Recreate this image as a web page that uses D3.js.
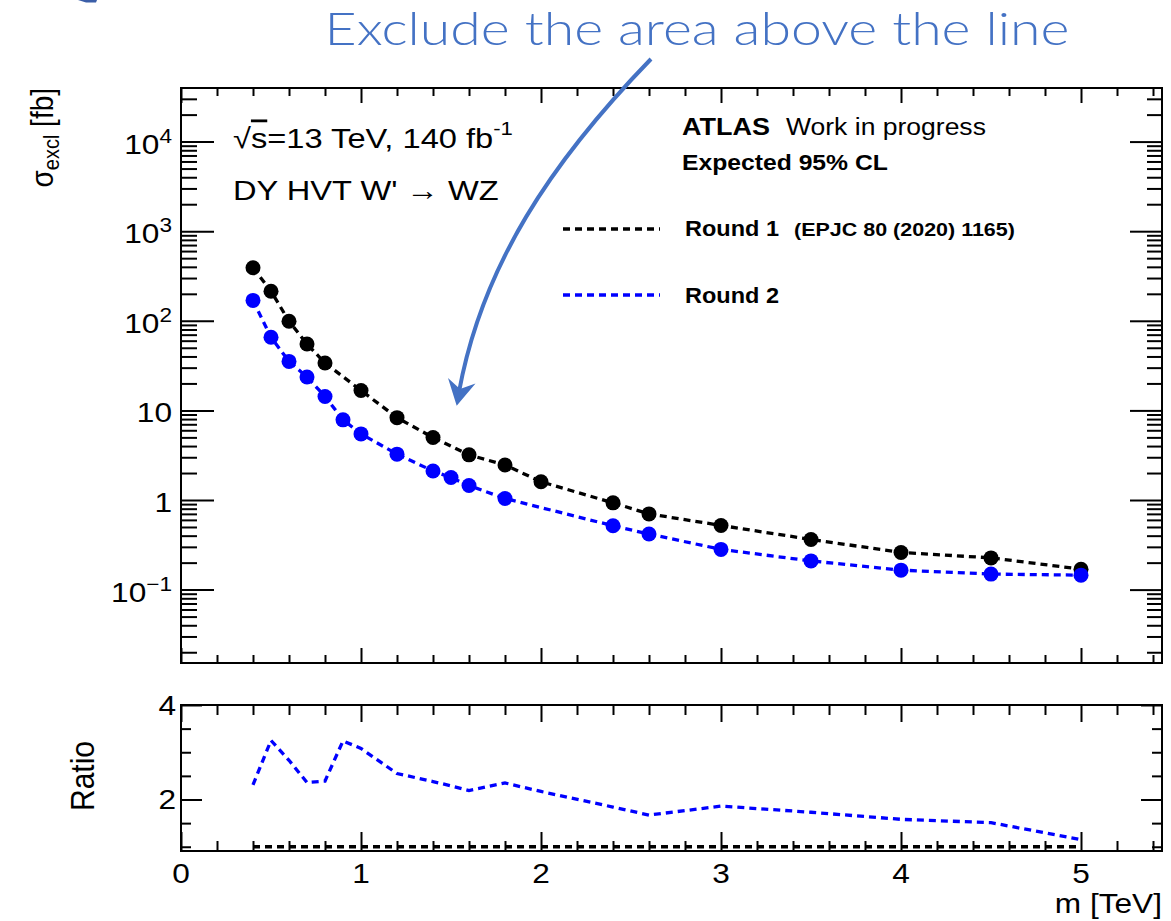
<!DOCTYPE html>
<html><head><meta charset="utf-8">
<script src="https://cdn.jsdelivr.net/npm/d3@7"></script>
<style>html,body{margin:0;padding:0;background:#fff;} svg{display:block;}</style>
</head><body>
<script>
// ---------------- data ----------------
const massRound1 = [0.4,0.5,0.6,0.7,0.8,1.0,1.2,1.4,1.6,1.8,2.0,2.4,2.6,3.0,3.5,4.0,4.5,5.0];
const xsecRound1 = [391,214,99,55,33.8,16.7,8.3,4.98,3.19,2.46,1.60,0.93,0.70,0.52,0.363,0.26,0.226,0.169];
const massRound2 = [0.4,0.5,0.6,0.7,0.8,0.9,1.0,1.2,1.4,1.5,1.6,1.8,2.4,2.6,3.0,3.5,4.0,4.5,5.0];
const xsecRound2 = [169,65.4,35.2,23.6,14.3,7.85,5.47,3.25,2.11,1.78,1.45,1.04,0.516,0.417,0.281,0.209,0.165,0.149,0.145];
const massRatio  = [0.4,0.5,0.6,0.7,0.8,0.9,1.0,1.2,1.4,1.5,1.6,1.8,2.0,2.4,2.6,3.0,3.5,4.0,4.5,5.0];
const ratioRound2 = [2.31,3.25,2.83,2.36,2.39,3.24,3.08,2.55,2.38,2.29,2.19,2.35,2.17,1.84,1.67,1.86,1.73,1.58,1.51,1.15];
const massRef = [0.4,5.0];
const ratioRef = [1,1];
const xMajorTicks = [0,1,2,3,4,5];
const xTickLabels = ["0","1","2","3","4","5"];
const yMajorExps = [-1,0,1,2,3,4];
const yTickLabels = [["10","\u22121"],["1",""],["10",""],["10","2"],["10","3"],["10","4"]];
const ratioMajorTicks = [2,4];
const ratioMinorTicks = [1,1.5,2.5,3,3.5];
const ratioTickLabels = ["2","4"];
const seriesNames = ["Round 1","Round 2"];

// ---------------- setup ----------------
const W = 1171, H = 921;
const FONT = "'Liberation Sans', Arial, Helvetica, sans-serif";
const SX = 1.13;
const BLUE = "#0000ff";
const NOTE = "#4472c4";
const svg = d3.select("body").append("svg").attr("width", W).attr("height", H);

const P = {l:181, r:1162, t:88, b:663};
const R = {t:705, b:851};

const x = d3.scaleLinear().domain([0, 5.45]).range([181, 181 + 5.45*180]);
const y = d3.scaleLog().domain([Math.pow(10,-1.819), Math.pow(10,4.598)]).range([P.b, P.t]);
const yr = d3.scaleLinear().domain([0.91, 4]).range([R.b, R.t]);

function addText(px, py, o) {
  const g = svg.append("g");
  const t = g.append("text")
    .attr("font-family", o.family || FONT)
    .attr("font-size", o.size)
    .attr("font-weight", o.weight || "normal")
    .attr("fill", o.fill || "#000")
    .attr("text-anchor", o.anchor || "start");
  if (o.rotate) t.attr("transform", `rotate(${o.rotate})`);
  o.build(t);
  let sx = o.sx || SX;
  if (o.width) { const bb = t.node().getBBox(); if (bb.width > 0) sx = o.width / bb.width; }
  g.attr("transform", `translate(${px},${py}) scale(${sx},1)`);
  return t;
}
const plain = s => t => t.text(s);

// ---------------- axes / ticks ----------------
const xMinor = d3.range(0, 28).filter(i => i % 5 !== 0).map(i => i*0.2).filter(v => v <= 5.45);
const yMinor = [];
for (let e = -2; e <= 4; e++) for (let k = 2; k <= 9; k++) {
  const v = k*Math.pow(10,e);
  if (v > y.domain()[0] && v < y.domain()[1]) yMinor.push(v);
}
const yMajor = yMajorExps.map(e => Math.pow(10,e));

function tickAxis(axis, tx, ty) {
  svg.append("g").attr("transform", `translate(${tx},${ty})`).call(axis.tickFormat(""))
    .call(g => g.select(".domain").remove())
    .call(g => g.selectAll("line").attr("stroke", "#000").attr("stroke-width", 2));
}
// main panel
tickAxis(d3.axisTop(x).tickValues(xMajorTicks).tickSize(15), 0, P.b);
tickAxis(d3.axisTop(x).tickValues(xMinor).tickSize(8), 0, P.b);
tickAxis(d3.axisBottom(x).tickValues(xMajorTicks).tickSize(15), 0, P.t);
tickAxis(d3.axisBottom(x).tickValues(xMinor).tickSize(8), 0, P.t);
tickAxis(d3.axisRight(y).tickValues(yMajor).tickSize(33), P.l, 0);
tickAxis(d3.axisRight(y).tickValues(yMinor).tickSize(16), P.l, 0);
tickAxis(d3.axisLeft(y).tickValues(yMajor).tickSize(32), P.r, 0);
tickAxis(d3.axisLeft(y).tickValues(yMinor).tickSize(15), P.r, 0);
// ratio panel
tickAxis(d3.axisTop(x).tickValues(xMajorTicks).tickSize(19), 0, R.b);
tickAxis(d3.axisTop(x).tickValues(xMinor).tickSize(10), 0, R.b);
tickAxis(d3.axisBottom(x).tickValues(xMajorTicks).tickSize(17), 0, R.t);
tickAxis(d3.axisBottom(x).tickValues(xMinor).tickSize(10), 0, R.t);
tickAxis(d3.axisRight(yr).tickValues(ratioMajorTicks).tickSize(21), P.l, 0);
tickAxis(d3.axisRight(yr).tickValues(ratioMinorTicks).tickSize(10), P.l, 0);
tickAxis(d3.axisLeft(yr).tickValues(ratioMajorTicks).tickSize(21), P.r, 0);
tickAxis(d3.axisLeft(yr).tickValues(ratioMinorTicks).tickSize(10), P.r, 0);

// frames
svg.append("rect").attr("x", P.l).attr("y", P.t).attr("width", P.r-P.l).attr("height", P.b-P.t)
  .attr("fill", "none").attr("stroke", "#000").attr("stroke-width", 2);
svg.append("rect").attr("x", P.l).attr("y", R.t).attr("width", P.r-P.l).attr("height", R.b-R.t)
  .attr("fill", "none").attr("stroke", "#000").attr("stroke-width", 2);

// y tick labels (main)
yMajor.forEach((v, i) => {
  const lab = yTickLabels[i];
  addText(172, y(v) + 12, {size: 28, anchor: "end", build: t => {
    t.append("tspan").text(lab[0]);
    if (lab[1]) t.append("tspan").attr("font-size", 20).attr("dy", -11).text(lab[1]);
  }});
});
// ratio tick labels
ratioMajorTicks.forEach((v, i) => {
  addText(176, yr(v) + 10, {size: 28, anchor: "end", build: plain(ratioTickLabels[i])});
});
// x tick labels
xMajorTicks.forEach((v, i) => {
  addText(x(v), 883, {size: 28, anchor: "middle", build: plain(xTickLabels[i])});
});

// axis titles
addText(1162, 913, {size: 28, anchor: "end", build: plain("m [TeV]")});
addText(53, 88, {size: 28, anchor: "end", rotate: -90, build: t => {
  t.append("tspan").text("\u03c3");
  t.append("tspan").attr("font-size", 20).attr("dy", 5).text("excl");
  t.append("tspan").attr("dy", -5).text(" [fb]");
}});
addText(94, 776, {size: 30, anchor: "middle", rotate: -90, build: plain("Ratio")});

// ---------------- data marks ----------------
const line1 = d3.line().x((d,i) => x(massRound1[i])).y(d => y(d));
const line2 = d3.line().x((d,i) => x(massRound2[i])).y(d => y(d));
const lineR = d3.line().x((d,i) => x(massRatio[i])).y(d => yr(d));
const lineRef = d3.line().x((d,i) => x(massRef[i])).y(d => yr(d));
const DASH = "7,5";

svg.append("path").datum(xsecRound1).attr("d", line1).attr("fill", "none")
  .attr("stroke", "#000").attr("stroke-width", 3.3).attr("stroke-dasharray", DASH);
svg.append("g").selectAll("circle").data(xsecRound1).join("circle")
  .attr("cx", (d,i) => x(massRound1[i])).attr("cy", d => y(d)).attr("r", 7.5).attr("fill", "#000");
svg.append("path").datum(xsecRound2).attr("d", line2).attr("fill", "none")
  .attr("stroke", BLUE).attr("stroke-width", 3.3).attr("stroke-dasharray", DASH);
svg.append("g").selectAll("circle").data(xsecRound2).join("circle")
  .attr("cx", (d,i) => x(massRound2[i])).attr("cy", d => y(d)).attr("r", 7.5).attr("fill", BLUE);

svg.append("path").datum(ratioRef).attr("d", lineRef).attr("fill", "none")
  .attr("stroke", "#000").attr("stroke-width", 3.3).attr("stroke-dasharray", DASH);
svg.append("path").datum(ratioRound2).attr("d", lineR).attr("fill", "none")
  .attr("stroke", BLUE).attr("stroke-width", 3.3).attr("stroke-dasharray", DASH);

// ---------------- legend & labels ----------------
[["#000", 229, 236], [BLUE, 295, 302.7]].forEach(([c, ly, ty], i) => {
  svg.append("line").attr("x1", 563).attr("x2", 660).attr("y1", ly).attr("y2", ly)
    .attr("stroke", c).attr("stroke-width", 3.3).attr("stroke-dasharray", DASH);
  addText(685, ty, {size: 22, weight: "bold", width: 94, build: plain(seriesNames[i])});
});
addText(794, 236, {size: 18, weight: "bold", width: 221, build: plain("(EPJC 80 (2020) 1165)")});

addText(682, 135, {size: 23, weight: "bold", width: 88, build: plain("ATLAS")});
addText(786, 135, {size: 23, width: 200, build: plain("Work in progress")});
addText(682, 170, {size: 22, weight: "bold", width: 206, build: plain("Expected 95% CL")});

addText(233, 148, {size: 28, width: 280, build: t => {
  t.append("tspan").text("\u221a");
  t.append("tspan").style("text-decoration", "overline").text("s");
  t.append("tspan").text("=13 TeV, 140 fb");
  t.append("tspan").attr("font-size", 19).attr("dy", -13).text("-1");
}});
addText(233, 200, {size: 28, width: 266, build: plain("DY HVT W' \u2192 WZ")});

// ---------------- annotation ----------------
addText(324.6, 45, {size: 45, family: "Lato, 'Open Sans', sans-serif", weight: 300, fill: NOTE, width: 745,
  build: plain("Exclude the area above the line")});
svg.append("path").attr("d", "M651,59 C551,162 482,266 459,392")
  .attr("fill", "none").attr("stroke", NOTE).attr("stroke-width", 4);
svg.append("path").attr("d", "M456.7,405.7 L448,378 L460,389 L475.5,383.5 Z").attr("fill", NOTE);
// fragment of slide title cut at top-left
svg.append("path").attr("d", "M78,0 L97,0 L96,2.5 L86,2.5 Z").attr("fill", "#3b5ea8");
</script>
</body></html>
